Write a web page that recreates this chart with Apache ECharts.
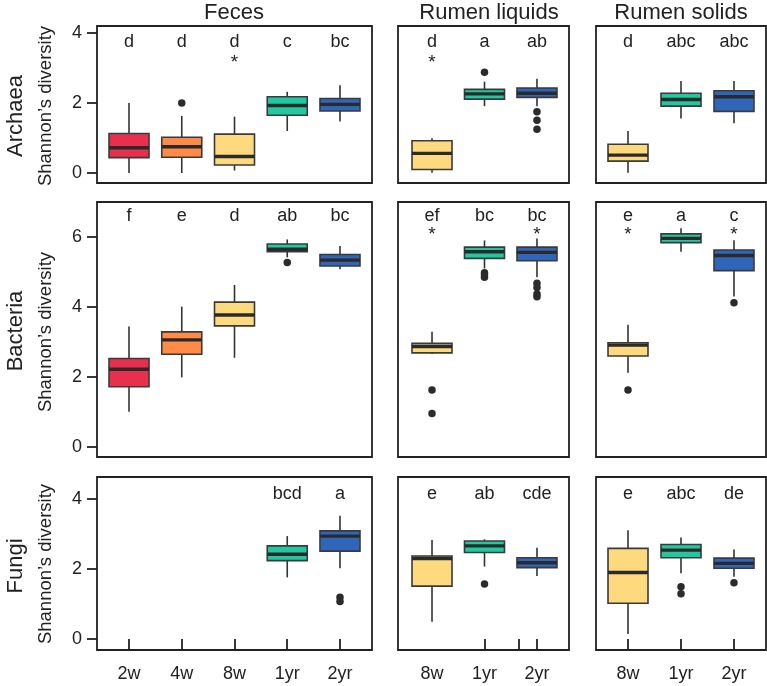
<!DOCTYPE html>
<html><head><meta charset="utf-8">
<script src="https://cdn.jsdelivr.net/npm/echarts@6/dist/echarts.min.js"></script>
<style>html,body{margin:0;padding:0;background:#fff}#c{width:767px;height:686px}</style>
</head><body><div id="c"></div>
<script>
// ---------- DATA ----------
const fecesCats = ['2w', '4w', '8w', '1yr', '2yr'];
const rumenCats = ['8w', '1yr', '2yr'];
const sourceTitles = ['Feces', 'Rumen liquids', 'Rumen solids'];
const kingdoms = ['Archaea', 'Bacteria', 'Fungi'];
const yLabel = 'Shannon\u2019s diversity';
const yTicksArchaea = [0, 2, 4];
const yTicksBacteria = [0, 2, 4, 6];
const yTicksFungi = [0, 2, 4];

// box stats: [min, q1, median, q3, max]
const archaeaFeces   = [[0.00,0.44,0.72,1.13,2.00],[0.00,0.45,0.75,1.02,1.63],[0.07,0.23,0.47,1.11,1.61],[1.20,1.65,1.93,2.18,2.32],[1.47,1.77,1.96,2.13,2.51]];
const archaeaLiquids = [[0.01,0.10,0.56,0.92,0.99],[1.91,2.11,2.26,2.39,2.61],[1.91,2.16,2.28,2.43,2.69]];
const archaeaSolids  = [[0.01,0.34,0.51,0.82,1.20],[1.56,1.91,2.10,2.28,2.63],[1.42,1.76,2.18,2.35,2.63]];
const bacteriaFeces   = [[1.01,1.72,2.22,2.53,3.44],[1.99,2.65,3.06,3.29,4.01],[2.55,3.46,3.77,4.14,4.63],[5.42,5.58,5.65,5.80,5.93],[5.08,5.17,5.34,5.50,5.74]];
const bacteriaLiquids = [[2.66,2.69,2.87,2.96,3.29],[5.10,5.39,5.58,5.71,5.90],[4.85,5.32,5.56,5.71,5.96]];
const bacteriaSolids  = [[2.12,2.60,2.91,2.98,3.49],[5.58,5.84,5.96,6.09,6.25],[4.30,5.04,5.47,5.63,5.91]];
const fungiFeces   = [null, null, null, [1.76,2.24,2.42,2.66,2.94],[2.02,2.51,2.94,3.09,3.52]];
const fungiLiquids = [[0.49,1.51,2.30,2.37,2.83],[2.07,2.47,2.66,2.80,2.85],[1.80,2.04,2.18,2.32,2.61]];
const fungiSolids  = [[0.14,1.02,1.90,2.59,3.11],[1.88,2.32,2.54,2.70,2.90],[1.78,2.02,2.16,2.31,2.56]];

// outliers: [category number (1-based), value]
const outArchaeaFeces   = [[2, 2.00]];
const outArchaeaLiquids = [[2, 2.88],[3, 1.75],[3, 1.51],[3, 1.25]];
const outArchaeaSolids  = [];
const outBacteriaFeces   = [[4, 5.27]];
const outBacteriaLiquids = [[1, 1.63],[1, 0.96],[2, 4.98],[2, 4.92],[2, 4.85],[3, 4.68],[3, 4.56],[3, 4.37],[3, 4.29]];
const outBacteriaSolids  = [[1, 1.63],[3, 4.12]];
const outFungiFeces   = [[5, 1.19],[5, 1.07]];
const outFungiLiquids = [[2, 1.57]];
const outFungiSolids  = [[2, 1.49],[2, 1.29],[3, 1.61]];

// significance letters and asterisks
const letArchaeaFeces   = ['d','d','d','c','bc'];
const letArchaeaLiquids = ['d','a','ab'];
const letArchaeaSolids  = ['d','abc','abc'];
const letBacteriaFeces   = ['f','e','d','ab','bc'];
const letBacteriaLiquids = ['ef','bc','bc'];
const letBacteriaSolids  = ['e','a','c'];
const letFungiFeces   = ['','','','bcd','a'];
const letFungiLiquids = ['e','ab','cde'];
const letFungiSolids  = ['e','abc','de'];
const starArchaeaFeces   = [0,0,1,0,0];
const starArchaeaLiquids = [1,0,0];
const starArchaeaSolids  = [0,0,0];
const starBacteriaFeces   = [0,0,0,0,0];
const starBacteriaLiquids = [1,0,1];
const starBacteriaSolids  = [1,0,1];
const starFungiFeces   = [0,0,0,0,0];
const starFungiLiquids = [0,0,0];
const starFungiSolids  = [0,0,0];

// ---------- STYLE / LAYOUT ----------
const COLORS = ['#E8304E', '#FF8B47', '#FFD97E', '#20C9A0', '#3066B9'];
const FONT = "'Liberation Sans', Arial, sans-serif";
const INK = '#222';
const COL_X = [[97, 275], [398, 171], [596, 170]];
const ROW_Y = [[26, 157], [202, 255], [477, 173]];
const X_RANGE = [[0.393, 5.607], [0.352, 3.610], [0.396, 3.604]];
const Y_RANGE = [[-0.2857, 4.2], [-0.2857, 7.0], [-0.314, 4.629]];
const LETTER_Y = [3.74, 6.61, 4.13];
const STAR_Y = [3.157, 6.07, 3.55];

const boxes = [[archaeaFeces, archaeaLiquids, archaeaSolids],[bacteriaFeces, bacteriaLiquids, bacteriaSolids],[fungiFeces, fungiLiquids, fungiSolids]];
const outs = [[outArchaeaFeces, outArchaeaLiquids, outArchaeaSolids],[outBacteriaFeces, outBacteriaLiquids, outBacteriaSolids],[outFungiFeces, outFungiLiquids, outFungiSolids]];
const lets = [[letArchaeaFeces, letArchaeaLiquids, letArchaeaSolids],[letBacteriaFeces, letBacteriaLiquids, letBacteriaSolids],[letFungiFeces, letFungiLiquids, letFungiSolids]];
const stars = [[starArchaeaFeces, starArchaeaLiquids, starArchaeaSolids],[starBacteriaFeces, starBacteriaLiquids, starBacteriaSolids],[starFungiFeces, starFungiLiquids, starFungiSolids]];
const yTicks = [yTicksArchaea, yTicksBacteria, yTicksFungi];

function renderBox(params, api) {
  const x = api.value(0);
  const lo = api.coord([x, api.value(1)]);
  const q1 = api.coord([x, api.value(2)]);
  const md = api.coord([x, api.value(3)]);
  const q3 = api.coord([x, api.value(4)]);
  const hi = api.coord([x, api.value(5)]);
  const color = COLORS[api.value(6)];
  const hw = 20;
  const ls = { stroke: '#333', lineWidth: 1.6 };
  return { type: 'group', children: [
    { type: 'line', shape: { x1: lo[0], y1: lo[1], x2: q1[0], y2: q1[1] }, style: ls },
    { type: 'line', shape: { x1: q3[0], y1: q3[1], x2: hi[0], y2: hi[1] }, style: ls },
    { type: 'rect', shape: { x: q3[0] - hw, y: q3[1], width: 2 * hw, height: q1[1] - q3[1] }, style: { fill: color, stroke: '#3a3a3a', lineWidth: 1.6 } },
    { type: 'line', shape: { x1: md[0] - hw, y1: md[1], x2: md[0] + hw, y2: md[1] }, style: { stroke: '#2a2a2a', lineWidth: 3.4 } }
  ]};
}
function textRenderer(texts, size) {
  return function (params, api) {
    const p = api.coord([api.value(0), api.value(1)]);
    return { type: 'text', x: p[0], y: p[1], style: { text: texts[params.dataIndex], fontSize: size, fontFamily: FONT, fill: INK, align: 'center', verticalAlign: 'middle' } };
  };
}

const grid = [], xAxis = [], yAxis = [], series = [];
for (let r = 0; r < 3; r++) {
  for (let c = 0; c < 3; c++) {
    const k = r * 3 + c;
    const cats = c === 0 ? fecesCats : rumenCats;
    const off = c === 0 ? 0 : 2;
    grid.push({ left: COL_X[c][0], top: ROW_Y[r][0], width: COL_X[c][1], height: ROW_Y[r][1], show: true, borderColor: INK, borderWidth: 1.8, backgroundColor: 'transparent' });
    const labelVals = cats.map((_, i) => i + 1);
    let tickVals = labelVals;
    if (c === 1) tickVals = [2, 2.657, 3];
    xAxis.push({ gridIndex: k, type: 'value', min: X_RANGE[c][0], max: X_RANGE[c][1],
      axisLine: { show: false }, splitLine: { show: false },
      axisTick: { show: r === 2, customValues: tickVals, length: 11, lineStyle: { color: INK, width: 1.8 } },
      axisLabel: { show: r === 2, customValues: labelVals, formatter: v => cats[Math.round(v) - 1], margin: 15, fontSize: 18, fontFamily: FONT, color: INK } });
    yAxis.push({ gridIndex: k, type: 'value', min: Y_RANGE[r][0], max: Y_RANGE[r][1],
      axisLine: { show: false }, splitLine: { show: false },
      axisTick: { show: c === 0, customValues: yTicks[r], length: 10, lineStyle: { color: INK, width: 1.8 } },
      axisLabel: { show: c === 0, customValues: yTicks[r], margin: 15, fontSize: 18, fontFamily: FONT, color: INK } });
    const bdata = [];
    boxes[r][c].forEach((b, i) => { if (b) bdata.push([i + 1].concat(b, [i + off])); });
    series.push({ type: 'custom', xAxisIndex: k, yAxisIndex: k, renderItem: renderBox, data: bdata, clip: false });
    series.push({ type: 'scatter', xAxisIndex: k, yAxisIndex: k, data: outs[r][c], symbolSize: 7.5, itemStyle: { color: '#2b2b2b', opacity: 1 }, z: 5 });
    const ltxt = [], ldata = [];
    lets[r][c].forEach((l, i) => { if (l) { ltxt.push(l); ldata.push([i + 1, LETTER_Y[r]]); } });
    series.push({ type: 'custom', xAxisIndex: k, yAxisIndex: k, renderItem: textRenderer(ltxt, 18), data: ldata, clip: false });
    const stxt = [], sdata = [];
    stars[r][c].forEach((s, i) => { if (s) { stxt.push('*'); sdata.push([i + 1, STAR_Y[r]]); } });
    series.push({ type: 'custom', xAxisIndex: k, yAxisIndex: k, renderItem: textRenderer(stxt, 19), data: sdata, clip: false });
  }
}

const graphic = [];
const titleX = [234, 489, 681];
sourceTitles.forEach((t, i) => graphic.push({ type: 'text', x: titleX[i], y: 13, style: { text: t, fontSize: 22, fontFamily: FONT, fill: INK, align: 'center', verticalAlign: 'middle' } }));
const kingY = [116, 331, 566];
const shanY = [106, 332, 564];
kingdoms.forEach((t, i) => {
  graphic.push({ type: 'text', x: 16, y: kingY[i], rotation: Math.PI / 2, style: { text: t, fontSize: 22, fontFamily: FONT, fill: INK, align: 'center', verticalAlign: 'middle' } });
  graphic.push({ type: 'text', x: 46, y: shanY[i], rotation: Math.PI / 2, style: { text: yLabel, fontSize: 18.5, fontFamily: FONT, fill: INK, align: 'center', verticalAlign: 'middle' } });
});

const chart = echarts.init(document.getElementById('c'), null, { renderer: 'canvas' });
chart.setOption({ animation: false, backgroundColor: '#fff', grid, xAxis, yAxis, series, graphic });
</script>
</body></html>
